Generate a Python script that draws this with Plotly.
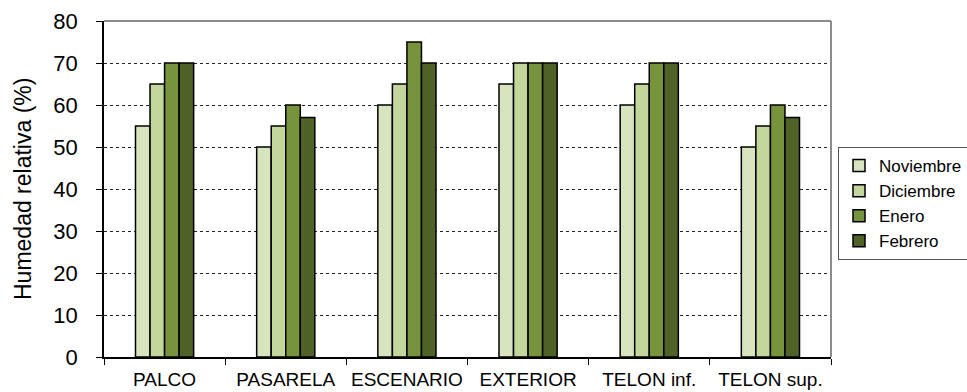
import plotly.graph_objects as go

# Relative humidity (%) per location and month
locations = ["PALCO", "PASARELA", "ESCENARIO", "EXTERIOR", "TELON inf.", "TELON sup."]
months = ["Noviembre", "Diciembre", "Enero", "Febrero"]
noviembre = [55, 50, 60, 65, 60, 50]
diciembre = [65, 55, 65, 70, 65, 55]
enero = [70, 60, 75, 70, 70, 60]
febrero = [70, 57, 70, 70, 70, 57]
month_colors = ["#D7E4BD", "#C3D69B", "#77933C", "#4F6228"]
y_ticks = [0, 10, 20, 30, 40, 50, 60, 70, 80]

FONT = "Arial, Liberation Sans, sans-serif"

fig = go.Figure()
for name, values, color in zip(months, [noviembre, diciembre, enero, febrero], month_colors):
    fig.add_trace(go.Bar(
        name=name, x=locations, y=values,
        marker=dict(color=color, line=dict(color="black", width=1.5)),
    ))

W, H = 967, 392
L, R, T, B = 104, 136, 21, 35

fig.update_layout(
    width=W, height=H,
    margin=dict(l=L, r=R, t=T, b=B, pad=0, autoexpand=False),
    paper_bgcolor="white", plot_bgcolor="white",
    barmode="group", bargap=0.52, bargroupgap=0,
    font=dict(family=FONT, color="black"),
    showlegend=True,
    legend=dict(
        x=(838 - L) / (W - L - R), y=(H - B - 147) / (H - T - B),
        xanchor="left", yanchor="top",
        bordercolor="#555555", borderwidth=1, bgcolor="white",
        font=dict(size=17, family=FONT, color="black"),
        tracegroupgap=0, itemwidth=30,
    ),
    xaxis=dict(
        type="category", tickson="boundaries", automargin=False,
        showline=True, linecolor="black", linewidth=1.5,
        ticks="outside", ticklen=6, tickcolor="black", tickwidth=1,
        showgrid=False, tickfont=dict(size=19, family=FONT),
        tickangle=0, ticklabelstandoff=4,
    ),
    yaxis=dict(
        range=[0, 80], tickvals=y_ticks, automargin=False,
        showline=True, linecolor="black", linewidth=1.5,
        ticks="outside", ticklen=6, tickcolor="black", tickwidth=1,
        showgrid=True, gridcolor="#222222", griddash="dot", gridwidth=1,
        tickfont=dict(size=22, family=FONT),
        ticklabelstandoff=14,
        zeroline=False,
    ),
    annotations=[dict(
        text="Humedad relativa (%)", textangle=-90,
        xref="paper", yref="paper", x=(23 - L) / (W - L - R), y=0.5,
        xanchor="center", yanchor="middle", showarrow=False,
        font=dict(size=23, family=FONT, color="black"),
    )],
    shapes=[
        dict(type="line", xref="paper", yref="paper", x0=0, x1=1, y0=1, y1=1,
             line=dict(color="#8C8C8C", width=2)),
        dict(type="line", xref="paper", yref="paper", x0=1, x1=1, y0=0, y1=1,
             line=dict(color="#8C8C8C", width=2)),
    ],
)

fig.write_html("out.html")
